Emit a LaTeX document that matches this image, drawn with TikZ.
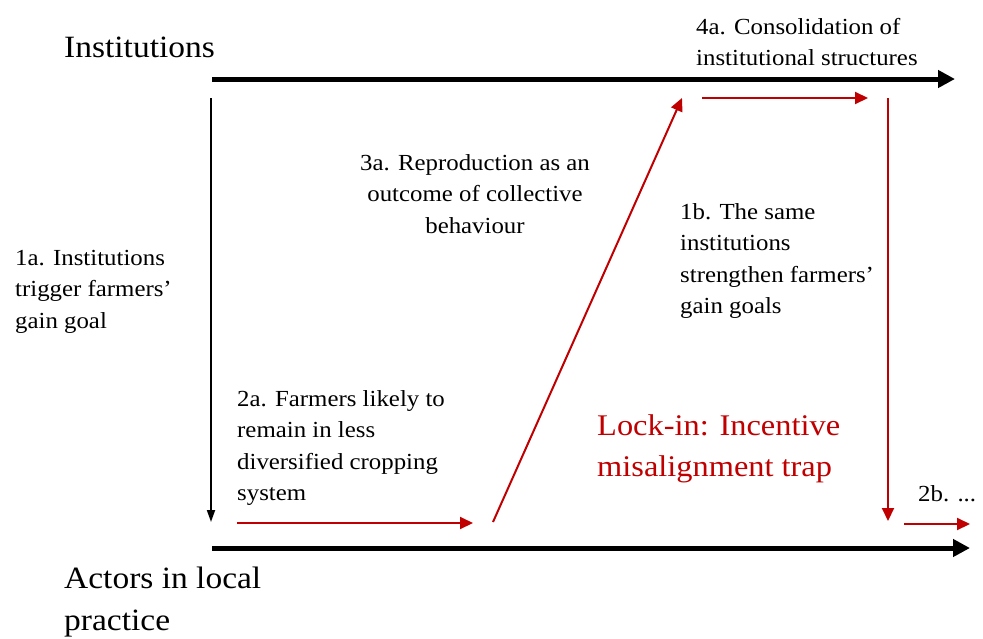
\documentclass[tikz,border=0pt]{standalone}
\usepackage{fontspec}
\setmainfont[FakeStretch=1.08]{Liberation Serif}
\usetikzlibrary{arrows.meta}
\definecolor{lockred}{RGB}{192,0,0}
\begin{document}
\begin{tikzpicture}[x=1pt,y=-1pt,
  bigarrow/.style={line width=5pt,-{Triangle[length=17pt,width=17pt]}},
  thinarrow/.style={line width=1.8pt,-{Triangle[length=12pt,width=8pt]}},
  redarrow/.style={draw=lockred,line width=2pt,-{Triangle[length=13pt,width=12pt]}},
  txt/.style={inner sep=0pt,font=\fontsize{23}{31.5}\selectfont,align=left,anchor=north west},
  head/.style={inner sep=0pt,font=\fontsize{31}{42}\selectfont,align=left,anchor=north west},
  locktxt/.style={inner sep=0pt,font=\fontsize{30}{41}\selectfont,align=left,anchor=north west,text=lockred}]
\useasboundingbox (0,0) rectangle (983,638);
% axes
\coordinate (ts) at (212,79);
\coordinate (te) at (955,79);
\coordinate (bs) at (212,548);
\coordinate (be) at (970,548);
\draw[bigarrow] (ts) -- (te);
\draw[bigarrow] (bs) -- (be);
% left vertical
\coordinate (ls) at (211,98);
\coordinate (le) at (211,522);
\draw[thinarrow] (ls) -- (le);
% red loop
\coordinate (r1s) at (237,523);
\coordinate (r1e) at (473,523);
\coordinate (r2s) at (493,522);
\coordinate (r2e) at (682,98);
\coordinate (r3s) at (702,98);
\coordinate (r3e) at (868,98);
\coordinate (r4s) at (888,98);
\coordinate (r4e) at (888,521);
\coordinate (r5s) at (904,524);
\coordinate (r5e) at (970,524);
\draw[redarrow] (r1s) -- (r1e);
\draw[redarrow] (r2s) -- (r2e);
\draw[redarrow] (r3s) -- (r3e);
\draw[redarrow] (r4s) -- (r4e);
\draw[redarrow] (r5s) -- (r5e);
% texts
\node[head] (inst) at (64,37) {Institutions};
\node[head] (act) at (64,567) {Actors in local\\practice};
\node[txt] (t1a) at (15,250) {1a. Institutions\\trigger farmers’\\gain goal};
\node[txt,align=center,anchor=north] (t3a) at (475,154) {3a. Reproduction as an\\outcome of collective\\behaviour};
\node[txt] (t4a) at (696,18) {4a. Consolidation of\\institutional structures};
\node[txt] (t1b) at (680,203) {1b. The same\\institutions\\strengthen farmers’\\gain goals};
\node[txt] (t2a) at (237,390) {2a. Farmers likely to\\remain in less\\diversified cropping\\system};
\node[txt] (t2b) at (918,485) {2b. ...};
\node[locktxt] (lock) at (597,414) {Lock-in: Incentive\\misalignment trap};
\end{tikzpicture}
\end{document}
